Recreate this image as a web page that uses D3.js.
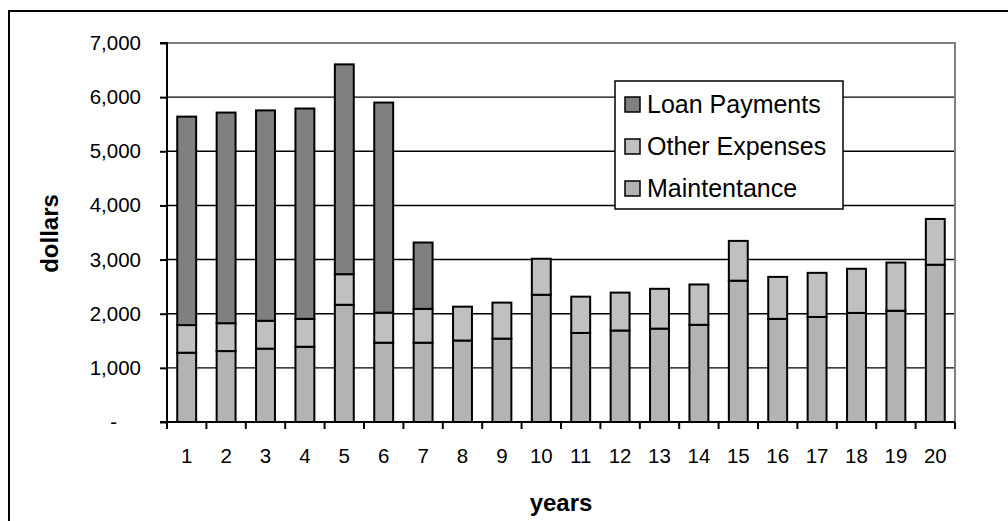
<!DOCTYPE html>
<html>
<head>
<meta charset="utf-8">
<script src="https://cdn.jsdelivr.net/npm/d3@7"></script>
<style>
  html, body { margin: 0; padding: 0; background: #fff; }
  svg { display: block; font-family: Arial, "Liberation Sans", sans-serif; }
</style>
</head>
<body>
<svg id="chart" width="1008" height="521"></svg>
<script>
const years = ["1","2","3","4","5","6","7","8","9","10","11","12","13","14","15","16","17","18","19","20"];
const maintenance = [1280,1310,1355,1390,2165,1465,1465,1505,1540,2350,1645,1690,1725,1795,2610,1905,1940,2015,2055,2905];
const otherExpenses = [510,515,515,515,565,555,625,625,665,665,670,700,735,745,735,775,815,815,890,845];
const loanPayments = [3850,3890,3885,3885,3875,3880,1225,0,0,0,0,0,0,0,0,0,0,0,0,0];
const seriesNames = ["Maintentance","Other Expenses","Loan Payments"];
const seriesColors = ["#b3b3b3","#c0c0c0","#808080"];
const yTicks = [0,1000,2000,3000,4000,5000,6000,7000];
const legendOrder = ["Loan Payments","Other Expenses","Maintentance"];

const svg = d3.select("#chart");
const W = 1008, H = 521;
const plot = {left: 167, right: 955, top: 43, bottom: 422};

// outer frame
svg.append("rect").attr("x", 9).attr("y", 11).attr("width", W + 10).attr("height", H + 10)
  .attr("fill", "none").attr("stroke", "#000").attr("stroke-width", 2);

const rows = years.map((y, i) => ({year: y, "Maintentance": maintenance[i], "Other Expenses": otherExpenses[i], "Loan Payments": loanPayments[i]}));

const x = d3.scaleBand().domain(years).range([plot.left, plot.right]).paddingInner(0.52).paddingOuter(0.26);
const y = d3.scaleLinear().domain([0, 7000]).range([plot.bottom, plot.top]);
const color = d3.scaleOrdinal().domain(seriesNames).range(seriesColors);

// gridlines
svg.append("g").selectAll("line").data(yTicks.filter(t => t > 0 && t < 7000)).join("line")
  .attr("x1", plot.left).attr("x2", plot.right)
  .attr("y1", d => y(d)).attr("y2", d => y(d))
  .attr("stroke", "#000").attr("stroke-width", 1.4);

// top and right plot border (gray)
svg.append("path")
  .attr("d", `M${plot.left},${y(7000)}H${plot.right}V${plot.bottom}`)
  .attr("fill", "none").attr("stroke", "#808080").attr("stroke-width", 2);

// stacked bars
const stack = d3.stack().keys(seriesNames);
const stacked = stack(rows);
svg.append("g").selectAll("g").data(stacked).join("g")
  .attr("fill", d => color(d.key))
  .selectAll("rect").data(d => d.filter(s => s[1] - s[0] > 0)).join("rect")
  .attr("x", d => x(d.data.year))
  .attr("width", x.bandwidth())
  .attr("y", d => y(d[1]))
  .attr("height", d => y(d[0]) - y(d[1]))
  .attr("stroke", "#000").attr("stroke-width", 2);

// y axis
const yAxis = d3.axisLeft(y).tickValues(yTicks).tickSize(7).tickPadding(19)
  .tickFormat(d => d === 0 ? "-" : d3.format(",")(d));
const gy = svg.append("g").attr("transform", `translate(${plot.left},0)`).call(yAxis);
gy.select(".domain").attr("stroke", "#000").attr("stroke-width", 2).attr("d", `M-7,${plot.top}H0V${plot.bottom}H-7`);
gy.selectAll(".tick line").attr("stroke", "#000").attr("stroke-width", 2);
gy.selectAll(".tick text").attr("font-size", 20.5).attr("fill", "#000").attr("font-family", "Arial, 'Liberation Sans', sans-serif");
gy.selectAll(".tick").filter(d => d === 0).select("text").attr("dx", -24);

// x axis: ticks at category boundaries
const gx = svg.append("g").attr("transform", `translate(0,${plot.bottom})`);
gx.append("line").attr("x1", plot.left).attr("x2", plot.right).attr("stroke", "#000").attr("stroke-width", 2);
const bounds = years.map(yv => x(yv) - x.step() * x.paddingInner() / 2);
bounds.push(plot.right);
gx.selectAll("line.tk").data(bounds).join("line").attr("class", "tk")
  .attr("x1", d => d).attr("x2", d => d).attr("y1", 0).attr("y2", 7)
  .attr("stroke", "#000").attr("stroke-width", 2);
gx.selectAll("text").data(years).join("text")
  .attr("x", d => x(d) + x.bandwidth() / 2).attr("y", 41)
  .attr("text-anchor", "middle").attr("font-size", 20.5).attr("fill", "#000")
  .text(d => d);

// axis titles
svg.append("text").attr("x", (plot.left + plot.right) / 2).attr("y", 511)
  .attr("text-anchor", "middle").attr("font-size", 24).attr("font-weight", "bold").text("years");
svg.append("text").attr("transform", `translate(58,${(plot.top + plot.bottom) / 2 + 1}) rotate(-90)`)
  .attr("text-anchor", "middle").attr("font-size", 24).attr("font-weight", "bold").text("dollars");

// legend
const lg = svg.append("g");
lg.append("rect").attr("x", 615).attr("y", 81).attr("width", 228).attr("height", 128)
  .attr("fill", "#fff").attr("stroke", "#000").attr("stroke-width", 1.5);
const items = lg.selectAll("g.item").data(legendOrder).join("g").attr("class", "item")
  .attr("transform", (d, i) => `translate(625,${104 + i * 42})`);
items.append("rect").attr("x", 0).attr("y", -7).attr("width", 15).attr("height", 15)
  .attr("fill", d => color(d)).attr("stroke", "#000").attr("stroke-width", 1.5);
items.append("text").attr("x", 22).attr("y", 9).attr("font-size", 25).attr("fill", "#000").text(d => d);
</script>
</body>
</html>
